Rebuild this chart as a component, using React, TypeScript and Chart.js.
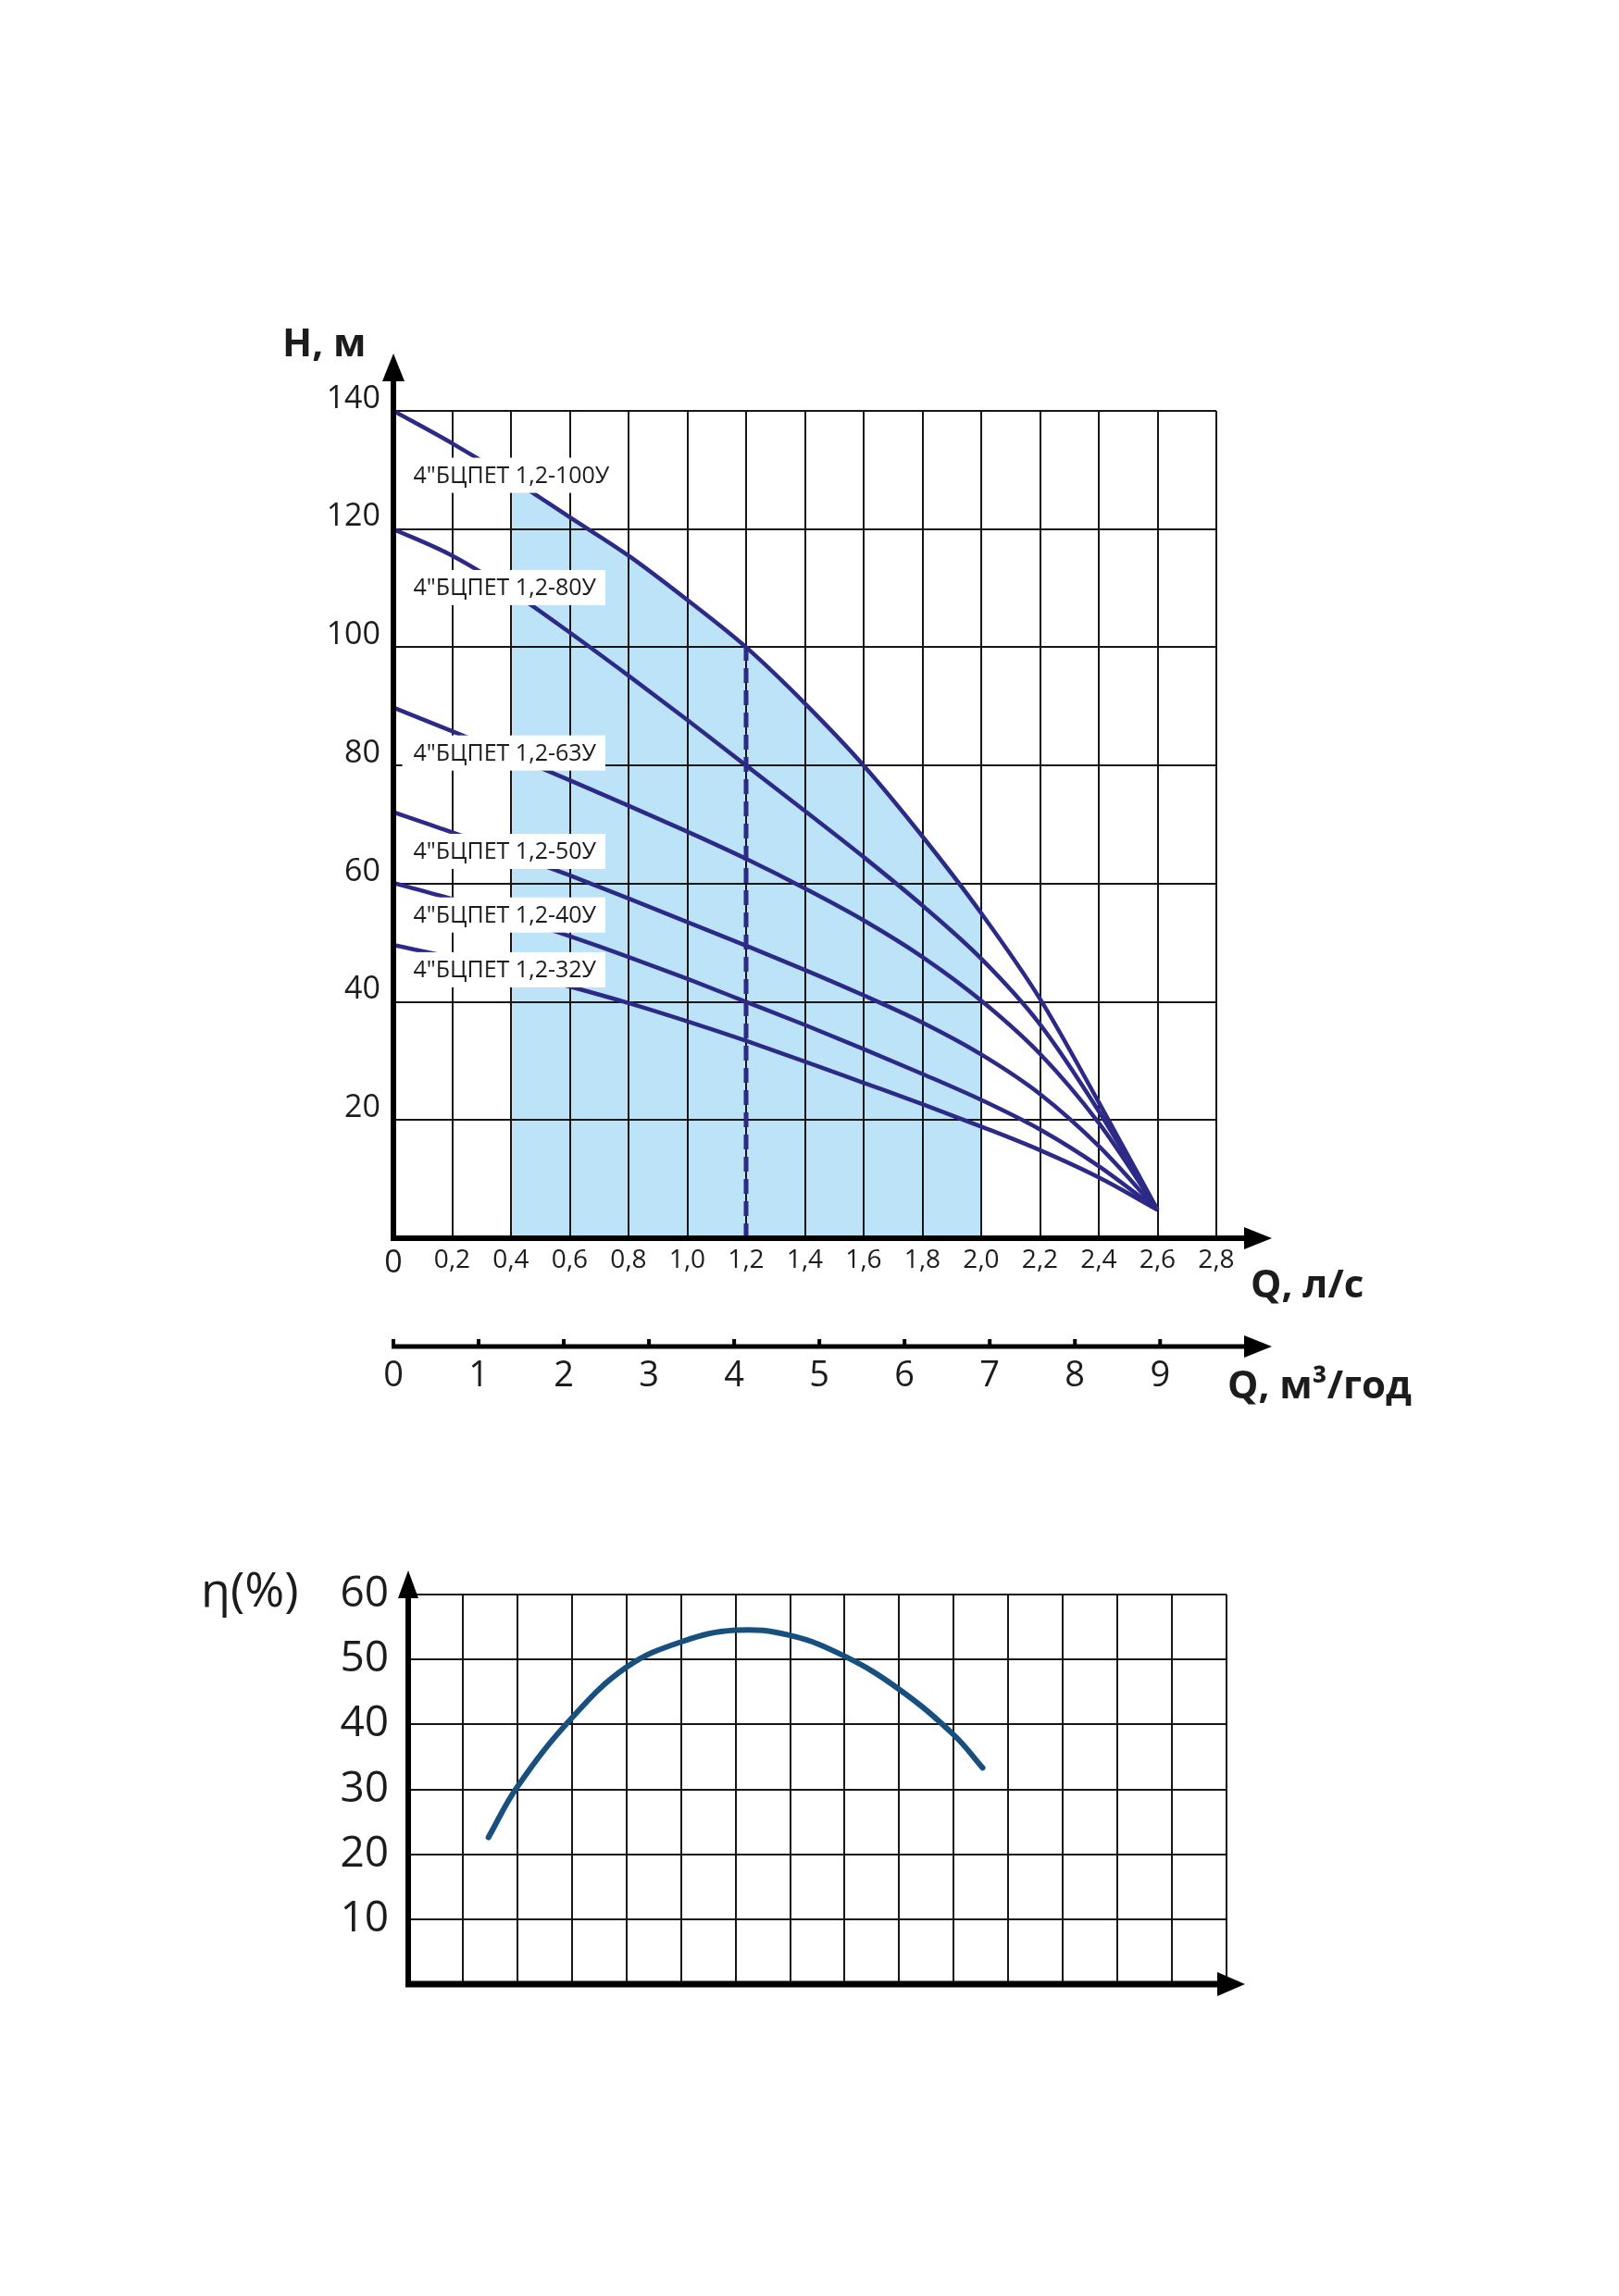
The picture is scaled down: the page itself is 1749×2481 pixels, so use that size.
import React, { useEffect, useRef } from "react"
import { Chart, ChartConfiguration, Plugin, registerables } from "chart.js"

Chart.register(...registerables)

// Q, л/с at which the curves were read
const flowLs = [0, 0.2, 0.4, 0.6, 0.8, 1.0, 1.2, 1.4, 1.6, 1.8, 2.0, 2.2, 2.4, 2.6]
// H, м for each pump model
const head100 = [140, 134.5, 128.5, 122, 115.5, 108, 100, 90.5, 80, 68, 55, 40.5, 23, 4.8]
const head80 = [120, 115.5, 109.5, 102.5, 95.2, 87.7, 80, 72.3, 64.5, 56.3, 47.3, 36.2, 21.5, 4.8]
const head63 = [89.8, 85.8, 81.7, 77.5, 73.2, 68.8, 64.2, 59.2, 53.8, 47.6, 40.2, 31.2, 19.5, 4.8]
const head50 = [72.1, 68.7, 65.1, 61.4, 57.5, 53.5, 49.5, 45.4, 41.1, 36.5, 31.1, 24.4, 15.6, 4.8]
const head40 = [60.1, 57.4, 54.4, 51.1, 47.6, 43.9, 40, 36.1, 32, 27.8, 23.4, 18.4, 12.2, 4.8]
const head32 = [49.6, 47.5, 45.2, 42.6, 39.8, 36.7, 33.4, 29.9, 26.3, 22.7, 18.9, 14.9, 10.3, 4.8]
const pumpNames = [
	'4"БЦПЕТ 1,2-100У',
	'4"БЦПЕТ 1,2-80У',
	'4"БЦПЕТ 1,2-63У',
	'4"БЦПЕТ 1,2-50У',
	'4"БЦПЕТ 1,2-40У',
	'4"БЦПЕТ 1,2-32У',
]
const workRange = [0.4, 2.0] // shaded working zone, л/с
const dutyFlow = 1.2
const flowM3Ticks = [0, 1, 2, 3, 4, 5, 6, 7, 8, 9]

// efficiency chart (x in grid cells, no labels in the source)
const effX = [1.47, 2, 3, 4, 5, 6, 7, 8, 9, 10, 10.53]
const effValues = [22.6, 30.4, 41, 48.8, 52.7, 54.5, 53.7, 50.5, 45.4, 38.4, 33.3]

const curves = [head100, head80, head63, head50, head40, head32]

const INK = "#2c2a86"
const BAND = "#bde3f8"
const GRID = "#161616"
const TEXT = "#1c1c1c"
const EFF = "#17507f"
const FONT = '"Open Sans", "Noto Sans", sans-serif'

Chart.defaults.font.family = FONT
Chart.defaults.color = TEXT

function valueAt(h: number[], q: number) {
	for (let j = 0; j < flowLs.length - 1; j++) {
		if (q >= flowLs[j] && q <= flowLs[j + 1]) {
			const t = (q - flowLs[j]) / (flowLs[j + 1] - flowLs[j])
			return h[j] + t * (h[j + 1] - h[j])
		}
	}
	return h[h.length - 1]
}

function arrowHead(ctx: CanvasRenderingContext2D, x: number, y: number, dir: "up" | "right", len: number, half: number) {
	ctx.beginPath()
	if (dir === "up") {
		ctx.moveTo(x, y)
		ctx.lineTo(x - half, y + len)
		ctx.lineTo(x + half, y + len)
	} else {
		ctx.moveTo(x, y)
		ctx.lineTo(x - len, y - half)
		ctx.lineTo(x - len, y + half)
	}
	ctx.closePath()
	ctx.fill()
}

const fmtLs = (v: number) => (v === 0 ? "0" : v.toFixed(1).replace(".", ","))

const headDecor: Plugin<"line"> = {
	id: "headDecor",
	afterDraw(chart) {
		const { ctx, chartArea: a, scales } = chart
		const x = scales.x
		const y = scales.y
		const x2 = scales.x2
		ctx.save()

		// model labels on white boxes
		ctx.font = `25px ${FONT}`
		ctx.textBaseline = "middle"
		ctx.textAlign = "left"
		curves.forEach((h, i) => {
			const cy = y.getPixelForValue(valueAt(h, 0.38))
			const bx = x.getPixelForValue(0.03)
			const w = ctx.measureText(pumpNames[i]).width + 22
			ctx.fillStyle = "#fff"
			ctx.fillRect(bx, cy - 19, w, 38)
			ctx.fillStyle = TEXT
			ctx.fillText(pumpNames[i], bx + 12, cy + 1)
		})

		// axes with arrows
		ctx.fillStyle = "#000"
		ctx.strokeStyle = "#000"
		ctx.lineWidth = 6
		ctx.beginPath()
		ctx.moveTo(a.left, a.bottom + 3)
		ctx.lineTo(a.left, a.top - 34)
		ctx.moveTo(a.left - 3, a.bottom)
		ctx.lineTo(a.right + 34, a.bottom)
		ctx.stroke()
		arrowHead(ctx, a.left, a.top - 62, "up", 30, 12)
		arrowHead(ctx, a.right + 60, a.bottom, "right", 30, 12)

		const ly = x2.top
		ctx.lineWidth = 5
		ctx.beginPath()
		ctx.moveTo(a.left - 2, ly)
		ctx.lineTo(a.right + 34, ly)
		ctx.stroke()
		arrowHead(ctx, a.right + 60, ly, "right", 30, 12)
		flowM3Ticks.forEach((v) => {
			const px = x2.getPixelForValue(v)
			ctx.fillRect(px - 2, ly - 8, 4, 8)
		})

		// axis titles
		ctx.fillStyle = TEXT
		ctx.textBaseline = "alphabetic"
		ctx.font = `bold 42px ${FONT}`
		ctx.fillText("H, м", 305, 385)
		ctx.fillText("Q, л/с", 1351, 1402)
		ctx.fillText("Q, м³/год", 1326, 1511)
		ctx.restore()
	},
}

const effDecor: Plugin<"line"> = {
	id: "effDecor",
	afterDraw(chart) {
		const { ctx, chartArea: a } = chart
		ctx.save()
		ctx.fillStyle = "#000"
		ctx.strokeStyle = "#000"
		ctx.lineWidth = 6
		ctx.beginPath()
		ctx.moveTo(a.left, a.bottom + 3)
		ctx.lineTo(a.left, a.top - 2)
		ctx.stroke()
		ctx.lineWidth = 7
		ctx.beginPath()
		ctx.moveTo(a.left - 3, a.bottom)
		ctx.lineTo(a.right, a.bottom)
		ctx.stroke()
		arrowHead(ctx, a.left, a.top - 26, "up", 30, 11)
		arrowHead(ctx, a.right + 20, a.bottom, "right", 30, 13)
		ctx.fillStyle = TEXT
		ctx.font = `52px ${FONT}`
		ctx.textBaseline = "alphabetic"
		ctx.fillText("η(%)", 217, 86)
		ctx.restore()
	},
}

export default function App() {
	const topRef = useRef<HTMLCanvasElement | null>(null)
	const botRef = useRef<HTMLCanvasElement | null>(null)

	useEffect(() => {
		if (!topRef.current || !botRef.current) return

		const inRange = (q: number) => q >= workRange[0] - 1e-9 && q <= workRange[1] + 1e-9

		const topConfig: ChartConfiguration<"line"> = {
			type: "line",
			data: {
				datasets: [
					...curves.map((h, i) => ({
						label: pumpNames[i],
						data: flowLs.map((q, j) => ({ x: q, y: h[j] })),
						borderColor: INK,
						borderWidth: 4.5,
						pointRadius: 0,
						cubicInterpolationMode: "monotone" as const,
						fill: false,
					})),
					{
						label: "duty",
						data: [
							{ x: dutyFlow, y: 0 },
							{ x: dutyFlow, y: head100[flowLs.indexOf(dutyFlow)] },
						],
						borderColor: INK,
						borderWidth: 5,
						borderDash: [16, 8],
						pointRadius: 0,
						fill: false,
					},
					{
						label: "range",
						data: flowLs.map((q, j) => ({ x: q, y: head100[j] })),
						borderWidth: 0,
						borderColor: "rgba(0,0,0,0)",
						pointRadius: 0,
						cubicInterpolationMode: "monotone" as const,
						fill: "origin",
						backgroundColor: "rgba(0,0,0,0)",
						segment: {
							backgroundColor: (c: any) =>
								inRange(c.p0.parsed.x) && inRange(c.p1.parsed.x) ? BAND : "rgba(0,0,0,0)",
						},
					},
				],
			},
			options: {
				responsive: false,
				maintainAspectRatio: false,
				animation: false,
				events: [],
				layout: { padding: { left: 0, top: 444, right: 435, bottom: 105 } },
				plugins: {
					legend: { display: false },
					tooltip: { enabled: false },
					filler: { drawTime: "beforeDraw" },
				},
				scales: {
					x: {
						type: "linear",
						min: 0,
						max: 2.8,
						weight: 1,
						ticks: {
							stepSize: 0.2,
							padding: 7,
							autoSkip: false,
							maxRotation: 0,
							font: (c: any) => ({ size: c.tick && c.tick.value === 0 ? 34 : 28 }),
							color: TEXT,
							callback: (v) => fmtLs(Number(v)),
						},
						grid: { color: GRID, lineWidth: 2, drawTicks: false },
						border: { display: false },
						afterFit: (s) => {
							s.height = 117
						},
					},
					x2: {
						type: "linear",
						position: "bottom",
						axis: "x",
						weight: 2,
						min: 0,
						max: 9.66,
						ticks: {
							stepSize: 1,
							includeBounds: false,
							padding: 1,
							autoSkip: false,
							maxRotation: 0,
							font: { size: 38 },
							color: TEXT,
							callback: (v) => (flowM3Ticks.includes(Number(v)) ? String(v) : ""),
						},
						grid: { display: false },
						border: { display: false },
						afterFit: (s) => {
							s.height = 90
						},
					},
					y: {
						type: "linear",
						min: 0,
						max: 140,
						ticks: {
							stepSize: 20,
							padding: 14,
							labelOffset: -13,
							font: { size: 34 },
							color: TEXT,
							callback: (v) => (Number(v) === 0 ? "" : String(v)),
						},
						grid: { color: GRID, lineWidth: 2, drawTicks: false },
						border: { display: false },
						afterFit: (s) => {
							s.width = 425
						},
					},
				},
			},
			plugins: [headDecor],
		}

		const botConfig: ChartConfiguration<"line"> = {
			type: "line",
			data: {
				datasets: [
					{
						label: "η",
						data: effX.map((q, j) => ({ x: q, y: effValues[j] })),
						borderColor: EFF,
						borderWidth: 6,
						borderCapStyle: "round",
						pointRadius: 0,
						tension: 0.4,
						fill: false,
					},
				],
			},
			options: {
				responsive: false,
				maintainAspectRatio: false,
				animation: false,
				events: [],
				layout: { padding: { left: 0, top: 73, right: 424, bottom: 337 } },
				plugins: { legend: { display: false }, tooltip: { enabled: false } },
				scales: {
					x: {
						type: "linear",
						min: 0,
						max: 15,
						ticks: { display: false, stepSize: 1 },
						grid: { color: GRID, lineWidth: 2, drawTicks: false },
						border: { display: false },
						afterFit: (s) => {
							s.height = 0
						},
					},
					y: {
						type: "linear",
						min: 0,
						max: 60,
						ticks: {
							stepSize: 10,
							padding: 21,
							font: { size: 46 },
							color: TEXT,
							callback: (v) => (Number(v) === 0 ? "" : String(v)),
						},
						grid: { color: GRID, lineWidth: 2, drawTicks: false },
						border: { display: false },
						afterFit: (s) => {
							s.width = 441
						},
					},
				},
			},
			plugins: [effDecor],
		}

		const top = new Chart(topRef.current, topConfig)
		const bot = new Chart(botRef.current, botConfig)
		return () => {
			top.destroy()
			bot.destroy()
		}
	}, [])

	return (
		<div
			style={{
				position: "absolute",
				left: 0,
				top: 0,
				width: 1749,
				height: 2481,
				background: "#fff",
				overflow: "hidden",
			}}
		>
			<canvas
				ref={topRef}
				width={1749}
				height={1650}
				style={{ position: "absolute", left: 0, top: 0, width: 1749, height: 1650 }}
			/>
			<canvas
				ref={botRef}
				width={1749}
				height={831}
				style={{ position: "absolute", left: 0, top: 1650, width: 1749, height: 831 }}
			/>
		</div>
	)
}
